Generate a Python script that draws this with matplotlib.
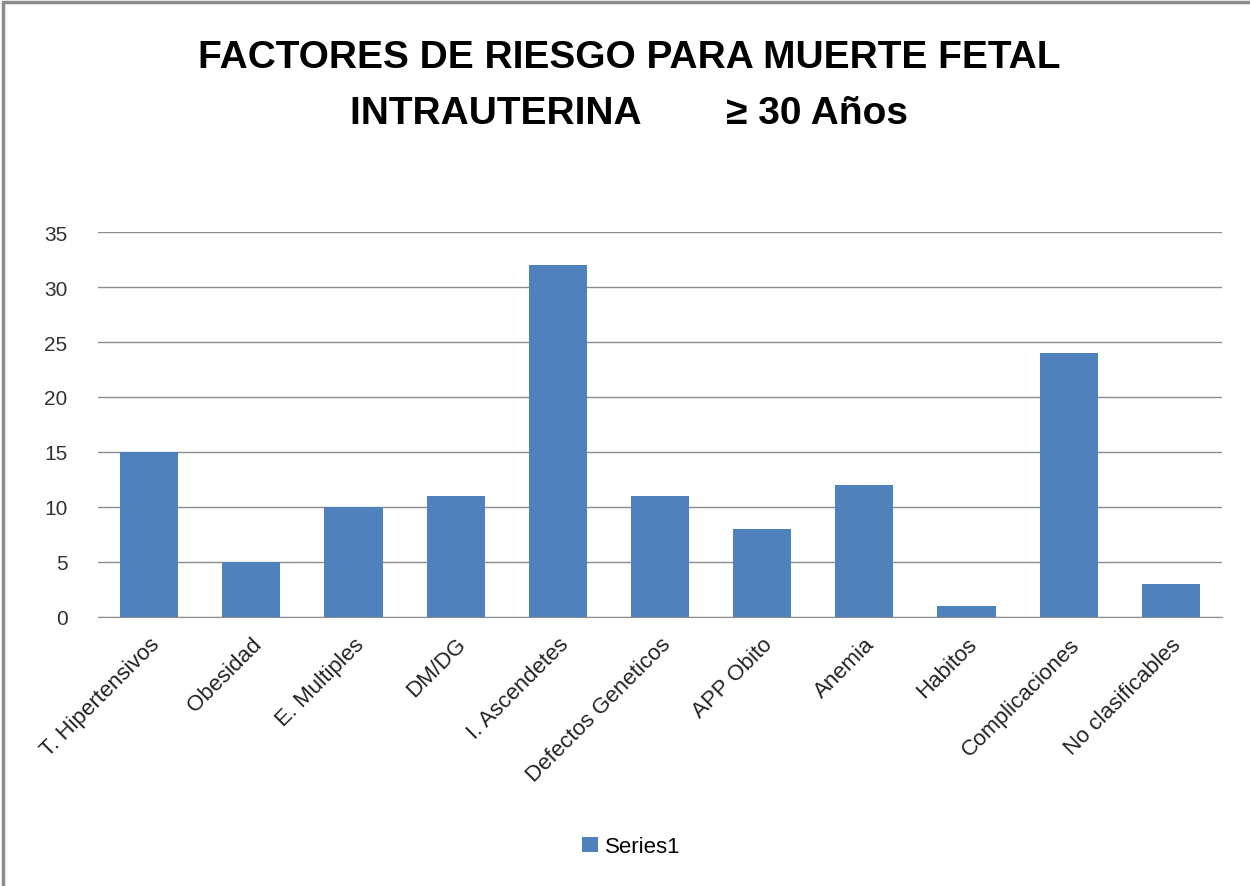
import matplotlib.pyplot as plt
from matplotlib.patches import Rectangle

categories = ["T. Hipertensivos", "Obesidad", "E. Multiples", "DM/DG", "I. Ascendetes",
              "Defectos Geneticos", "APP Obito", "Anemia", "Habitos",
              "Complicaciones", "No clasificables"]
values = [15, 5, 10, 11, 32, 11, 8, 12, 1, 24, 3]
yticks = [0, 5, 10, 15, 20, 25, 30, 35]

plt.rcParams['font.family'] = ['Liberation Sans', 'DejaVu Sans']

fig = plt.figure(figsize=(12.5, 8.87), dpi=100)
ax = fig.add_axes([0.0784, 0.3033, 0.8992, 0.434])

x = range(len(categories))
ax.bar(x, values, width=0.57, color='#4F81BD', zorder=3, label='Series1')
ax.set_xlim(-0.5, len(categories) - 0.5)
ax.set_ylim(0, 35)
ax.set_yticks(yticks)
ax.set_yticklabels([str(v) for v in yticks], fontsize=15, color='#333333')
ax.set_xticks(list(x))
ax.set_xticklabels(categories, rotation=45, ha='right', rotation_mode='anchor',
                   fontsize=16, color='#222222')
ax.tick_params(axis='y', length=0, pad=22)
ax.tick_params(axis='x', length=0, pad=12)
ax.grid(axis='y', color='#8c8c8c', linewidth=1, zorder=0)
for s in ['left', 'right', 'top']:
    ax.spines[s].set_visible(False)
ax.spines['bottom'].set_color('#8c8c8c')

fig.text(0.503, 0.935, "FACTORES DE RIESGO PARA MUERTE FETAL", ha='center', va='center',
         fontsize=28, fontweight='bold', color='black')
fig.text(0.503, 0.872, "INTRAUTERINA        ≥ 30 Años", ha='center', va='center',
         fontsize=28, fontweight='bold', color='black')

fig.legend(loc='center', bbox_to_anchor=(0.505, 0.044), frameon=False, fontsize=16,
           handlelength=0.7, handleheight=0.7, handletextpad=0.3)

fig.patches.append(Rectangle((0.002, -0.01), 1.1, 1.0065, transform=fig.transFigure,
                             fill=False, edgecolor='#8c8c8c', linewidth=2.5))

fig.savefig('out.png', dpi=100)
